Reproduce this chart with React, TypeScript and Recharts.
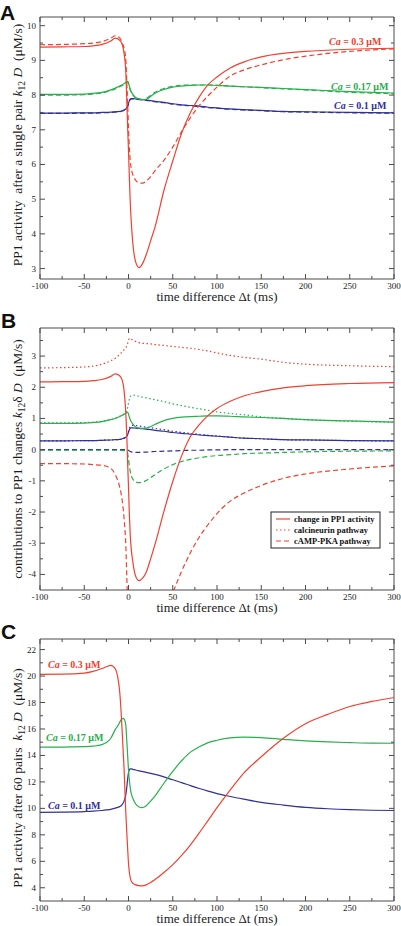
import React from 'react';
import { LineChart, Line, XAxis, YAxis, ReferenceLine } from 'recharts';

const RED = '#f2402f';
const GREEN = '#27b04b';
const BLUE = '#30309a';
const AXIS = '#4a4a4a';
const SERIF = '"Liberation Serif", "Times New Roman", serif';
const SANS = '"Liberation Sans", Arial, sans-serif';

// shared x axis (time difference, ms)
const xTicks = [-100, -75, -50, -25, 0, 25, 50, 75, 100, 125, 150, 175, 200, 225, 250, 275, 300];

// ---- panel A & B sample times
const tSingle = [-100, -75, -50, -40, -30, -20, -15, -10, -7, -5, -3, -2, -1, 0, 1, 2, 3, 5, 8, 12, 16, 20, 25, 30, 40, 50, 60, 70, 80, 90, 100, 115, 130, 150, 175, 200, 250, 300];

// A: PP1 activity after a single pair
const aRed = [9.38, 9.39, 9.4, 9.42, 9.46, 9.56, 9.64, 9.58, 9.45, 9.2, 8.65, 7.9, 7.1, 6.4, 5.6, 4.9, 4.4, 3.7, 3.2, 3.03, 3.15, 3.4, 3.8, 4.2, 5.25, 6.1, 6.9, 7.5, 7.95, 8.3, 8.52, 8.78, 8.95, 9.1, 9.2, 9.26, 9.32, 9.35];
const aRedDash = [9.45, 9.46, 9.48, 9.5, 9.54, 9.64, 9.71, 9.65, 9.5, 9.35, 9.0, 8.4, 7.8, 7.05, 6.45, 6.1, 5.9, 5.7, 5.55, 5.47, 5.46, 5.52, 5.65, 5.82, 6.12, 6.5, 6.95, 7.35, 7.7, 7.98, 8.23, 8.55, 8.72, 8.87, 9.02, 9.12, 9.26, 9.33];
const aGreen = [8.02, 8.02, 8.03, 8.05, 8.08, 8.15, 8.2, 8.26, 8.3, 8.33, 8.37, 8.39, 8.4, 8.35, 8.25, 8.17, 8.1, 8.02, 7.93, 7.89, 7.87, 7.88, 7.96, 8.05, 8.16, 8.23, 8.26, 8.28, 8.29, 8.29, 8.28, 8.26, 8.24, 8.22, 8.19, 8.16, 8.1, 8.06];
const aGreenDash = [8.0, 8.0, 8.01, 8.03, 8.06, 8.13, 8.18, 8.24, 8.28, 8.31, 8.35, 8.37, 8.38, 8.33, 8.23, 8.15, 8.08, 8.0, 7.92, 7.88, 7.87, 7.9, 7.99, 8.08, 8.19, 8.25, 8.28, 8.29, 8.29, 8.29, 8.28, 8.26, 8.24, 8.21, 8.18, 8.15, 8.08, 8.04];
const aBlue = [7.48, 7.48, 7.49, 7.49, 7.5, 7.51, 7.52, 7.53, 7.55, 7.57, 7.6, 7.63, 7.68, 7.76, 7.84, 7.88, 7.9, 7.9, 7.89, 7.88, 7.87, 7.86, 7.84, 7.82, 7.79, 7.75, 7.72, 7.7, 7.68, 7.65, 7.63, 7.6, 7.58, 7.56, 7.53, 7.52, 7.5, 7.49];
const aBlueDash = [7.47, 7.47, 7.48, 7.48, 7.49, 7.5, 7.51, 7.52, 7.54, 7.56, 7.59, 7.62, 7.67, 7.75, 7.83, 7.87, 7.89, 7.89, 7.88, 7.87, 7.86, 7.85, 7.83, 7.81, 7.78, 7.74, 7.71, 7.69, 7.67, 7.64, 7.62, 7.59, 7.57, 7.55, 7.52, 7.51, 7.49, 7.48];

// B: contributions (total / calcineurin / cAMP-PKA)
const bRed = [2.17, 2.18, 2.19, 2.21, 2.25, 2.35, 2.43, 2.37, 2.22, 1.9, 1.15, 0.5, -0.4, -1.2, -2.1, -2.75, -3.15, -3.62, -4.05, -4.2, -4.12, -3.93, -3.5, -3.03, -1.98, -1.02, -0.2, 0.42, 0.8, 1.1, 1.32, 1.55, 1.72, 1.86, 1.98, 2.05, 2.12, 2.15];
const bRedCn = [2.62, 2.63, 2.65, 2.68, 2.74, 2.85, 2.93, 3.05, 3.14, 3.2, 3.27, 3.32, 3.4, 3.5, 3.57, 3.56, 3.54, 3.51, 3.47, 3.43, 3.41, 3.4, 3.39, 3.37, 3.34, 3.31, 3.28, 3.25, 3.21, 3.16, 3.1, 3.02, 2.96, 2.9, 2.8, 2.74, 2.69, 2.66];
const bRedPka = [-0.45, -0.45, -0.46, -0.48, -0.5, -0.6, -0.8, -1.2, -1.65, -2.2, -3.1, -4.0, -5.0, -5.8, -6.6, -7.0, -7.3, -7.5, -7.6, -7.6, -7.5, -7.3, -6.9, -6.4, -5.4, -4.6, -3.9, -3.3, -2.8, -2.4, -2.05, -1.65, -1.4, -1.15, -0.92, -0.78, -0.62, -0.52];
const bGreen = [0.84, 0.84, 0.85, 0.87, 0.9, 0.96, 1.0, 1.06, 1.1, 1.13, 1.17, 1.19, 1.2, 1.14, 1.04, 0.96, 0.9, 0.82, 0.73, 0.69, 0.68, 0.69, 0.74, 0.81, 0.93, 1.0, 1.04, 1.06, 1.07, 1.08, 1.08, 1.07, 1.05, 1.03, 1.0, 0.96, 0.92, 0.88];
const bGreenCn = [0.86, 0.86, 0.87, 0.88, 0.91, 0.97, 1.01, 1.07, 1.11, 1.15, 1.2, 1.25, 1.35, 1.5, 1.62, 1.7, 1.73, 1.75, 1.74, 1.71, 1.68, 1.66, 1.63, 1.6, 1.54, 1.47, 1.41, 1.36, 1.31, 1.26, 1.21, 1.16, 1.12, 1.05, 1.0, 0.96, 0.91, 0.88];
const bGreenPka = [-0.02, -0.02, -0.02, -0.02, -0.02, -0.02, -0.02, -0.02, -0.03, -0.03, -0.04, -0.06, -0.12, -0.3, -0.52, -0.7, -0.82, -0.95, -1.03, -1.06, -1.04, -0.99, -0.9, -0.8, -0.62, -0.48, -0.38, -0.31, -0.26, -0.22, -0.19, -0.16, -0.13, -0.11, -0.09, -0.07, -0.05, -0.04];
const bBlue = [0.28, 0.28, 0.29, 0.29, 0.3, 0.31, 0.32, 0.33, 0.35, 0.37, 0.4, 0.43, 0.48, 0.56, 0.64, 0.68, 0.7, 0.7, 0.69, 0.68, 0.67, 0.66, 0.64, 0.62, 0.59, 0.55, 0.52, 0.5, 0.47, 0.45, 0.43, 0.4, 0.37, 0.35, 0.32, 0.31, 0.29, 0.28];
const bBlueCn = [0.28, 0.28, 0.29, 0.29, 0.3, 0.31, 0.32, 0.33, 0.35, 0.37, 0.4, 0.43, 0.49, 0.58, 0.68, 0.74, 0.77, 0.78, 0.77, 0.76, 0.74, 0.72, 0.7, 0.68, 0.64, 0.59, 0.55, 0.52, 0.49, 0.46, 0.44, 0.4, 0.37, 0.35, 0.32, 0.31, 0.29, 0.28];
const bBluePka = [0, 0, 0, 0, 0, 0, 0, 0, 0, 0, 0, 0, -0.01, -0.02, -0.04, -0.06, -0.07, -0.08, -0.09, -0.09, -0.08, -0.08, -0.07, -0.06, -0.05, -0.04, -0.03, -0.02, -0.02, -0.01, -0.01, 0, 0, 0, 0, 0, 0, 0];

// ---- panel C: after 60 pairs
const tPairs = [-100, -75, -50, -40, -30, -25, -20, -15, -12, -10, -8, -6, -5, -4, -3, -2, -1, 0, 1, 2, 3, 5, 8, 12, 15, 20, 25, 30, 40, 50, 60, 70, 80, 90, 100, 115, 130, 150, 175, 200, 225, 250, 275, 300];
const cRed = [20.13, 20.14, 20.22, 20.35, 20.57, 20.7, 20.81, 20.55, 19.85, 18.85, 16.9, 14.3, 13.0, 11.25, 9.6, 8.25, 7.0, 5.85, 5.15, 4.75, 4.52, 4.33, 4.22, 4.16, 4.14, 4.22, 4.4, 4.62, 5.15, 5.75, 6.45, 7.25, 8.15, 9.1, 10.05, 11.4, 12.65, 13.9, 15.3, 16.4, 17.1, 17.7, 18.08, 18.38];
const cGreen = [14.63, 14.63, 14.66, 14.7, 14.82, 14.98, 15.3, 15.95, 16.25, 16.5, 16.72, 16.8, 16.75, 16.6, 16.25, 15.2, 14.05, 12.9, 12.1, 11.55, 11.15, 10.75, 10.35, 10.1, 10.05, 10.2, 10.55, 10.95, 11.9, 12.8, 13.6, 14.25, 14.65, 14.97, 15.15, 15.33, 15.38, 15.35, 15.22, 15.1, 15.02, 14.97, 14.93, 14.92];
const cBlue = [9.7, 9.72, 9.76, 9.79, 9.84, 9.88, 9.93, 10.02, 10.08, 10.13, 10.22, 10.4, 10.55, 10.75, 11.05, 11.55, 12.2, 12.7, 12.92, 12.98, 12.98, 12.95, 12.9, 12.84, 12.8, 12.72, 12.65, 12.57, 12.38, 12.16, 11.95, 11.72, 11.5, 11.3, 11.12, 10.9, 10.7, 10.45, 10.25, 10.08, 9.97, 9.9, 9.86, 9.84];

const yTicksA = [3, 3.5, 4, 4.5, 5, 5.5, 6, 6.5, 7, 7.5, 8, 8.5, 9, 9.5, 10];
const yTicksB = [-4, -3.5, -3, -2.5, -2, -1.5, -1, -0.5, 0, 0.5, 1, 1.5, 2, 2.5, 3, 3.5];
const yTicksC = [4, 5, 6, 7, 8, 9, 10, 11, 12, 13, 14, 15, 16, 17, 18, 19, 20, 21, 22];

const rowsA = tSingle.map((t, i) => ({ t, red: aRed[i], redD: aRedDash[i], green: aGreen[i], greenD: aGreenDash[i], blue: aBlue[i], blueD: aBlueDash[i] }));
const rowsB = tSingle.map((t, i) => ({
  t, red: bRed[i], redCn: bRedCn[i], redPka: bRedPka[i],
  green: bGreen[i], greenCn: bGreenCn[i], greenPka: bGreenPka[i],
  blue: bBlue[i], blueCn: bBlueCn[i], bluePka: bBluePka[i],
}));
const rowsC = tPairs.map((t, i) => ({ t, red: cRed[i], green: cGreen[i], blue: cBlue[i] }));

const PLOT_W = 354;
const PLOT_H = 262;

// inward ticks on bottom + top, labels on bottom
const xTick = (props: any) => {
  const { x, y, payload } = props;
  const v = payload.value;
  const major = v % 50 === 0;
  const len = major ? 5 : 3;
  return (
    <g>
      <line x1={x} y1={y} x2={x} y2={y - len} stroke={AXIS} />
      <line x1={x} y1={y - PLOT_H} x2={x} y2={y - PLOT_H + len} stroke={AXIS} />
      {major && (
        <text x={x} y={y + 9.5} textAnchor="middle" fontSize={9} fill="#222" fontFamily={SERIF}>{v}</text>
      )}
    </g>
  );
};

// inward ticks on left + right, labels on left
const yTick = (isMajor: (v: number) => boolean) => (props: any) => {
  const { x, y, payload } = props;
  const v = payload.value;
  const major = isMajor(v);
  const len = major ? 5 : 3;
  return (
    <g>
      <line x1={x} y1={y} x2={x + len} y2={y} stroke={AXIS} />
      <line x1={x + PLOT_W} y1={y} x2={x + PLOT_W - len} y2={y} stroke={AXIS} />
      {major && (
        <text x={x - 4} y={y + 3} textAnchor="end" fontSize={9} fill="#222" fontFamily={SERIF}>{v}</text>
      )}
    </g>
  );
};

const isInt = (v: number) => Number.isInteger(v);
const isEven = (v: number) => v % 2 === 0;

const lineProps = { dot: false, activeDot: false, isAnimationActive: false, type: 'monotone' as const, strokeWidth: 1.2 };

function PanelA() {
  return (
    <LineChart width={401} height={305} data={rowsA} margin={{ top: 17, right: 7, bottom: 0, left: 0 }}>
      <XAxis dataKey="t" type="number" domain={[-100, 300]} ticks={xTicks} interval={0} tickSize={0} tickMargin={0}
        height={26} tick={xTick} tickLine={false} axisLine={{ stroke: AXIS }} allowDataOverflow />
      <YAxis type="number" domain={[2.7, 10.25]} ticks={yTicksA} interval={0} width={40} tickSize={0} tickMargin={0}
        tick={yTick(isInt)} tickLine={false} axisLine={{ stroke: AXIS }} allowDataOverflow />
      <ReferenceLine y={10.25} stroke={AXIS} />
      <ReferenceLine x={300} stroke={AXIS} />
      <Line dataKey="blueD" stroke={BLUE} strokeDasharray="5 3" {...lineProps} />
      <Line dataKey="blue" stroke={BLUE} {...lineProps} />
      <Line dataKey="greenD" stroke={GREEN} strokeDasharray="5 3" {...lineProps} />
      <Line dataKey="green" stroke={GREEN} {...lineProps} />
      <Line dataKey="redD" stroke={RED} strokeDasharray="5 3" {...lineProps} />
      <Line dataKey="red" stroke={RED} {...lineProps} />
    </LineChart>
  );
}

function PanelB() {
  return (
    <LineChart width={401} height={305} data={rowsB} margin={{ top: 18, right: 7, bottom: 0, left: 0 }}>
      <XAxis dataKey="t" type="number" domain={[-100, 300]} ticks={xTicks} interval={0} tickSize={0} tickMargin={0}
        height={25} tick={xTick} tickLine={false} axisLine={{ stroke: AXIS }} allowDataOverflow />
      <YAxis type="number" domain={[-4.5, 3.9]} ticks={yTicksB} interval={0} width={40} tickSize={0} tickMargin={0}
        tick={yTick(isInt)} tickLine={false} axisLine={{ stroke: AXIS }} allowDataOverflow />
      <ReferenceLine y={3.9} stroke={AXIS} />
      <ReferenceLine x={300} stroke={AXIS} />
      <Line dataKey="bluePka" stroke={BLUE} strokeDasharray="5 3" {...lineProps} />
      <Line dataKey="greenPka" stroke={GREEN} strokeDasharray="5 3" {...lineProps} />
      <Line dataKey="redPka" stroke={RED} strokeDasharray="5 3" {...lineProps} />
      <Line dataKey="blueCn" stroke={BLUE} strokeDasharray="1.5 2.5" {...lineProps} />
      <Line dataKey="greenCn" stroke={GREEN} strokeDasharray="1.5 2.5" {...lineProps} />
      <Line dataKey="redCn" stroke={RED} strokeDasharray="1.5 2.5" {...lineProps} />
      <Line dataKey="blue" stroke={BLUE} {...lineProps} />
      <Line dataKey="green" stroke={GREEN} {...lineProps} />
      <Line dataKey="red" stroke={RED} {...lineProps} />
    </LineChart>
  );
}

function PanelC() {
  return (
    <LineChart width={401} height={306} data={rowsC} margin={{ top: 19, right: 7, bottom: 0, left: 0 }}>
      <XAxis dataKey="t" type="number" domain={[-100, 300]} ticks={xTicks} interval={0} tickSize={0} tickMargin={0}
        height={25} tick={xTick} tickLine={false} axisLine={{ stroke: AXIS }} allowDataOverflow />
      <YAxis type="number" domain={[3, 22.8]} ticks={yTicksC} interval={0} width={40} tickSize={0} tickMargin={0}
        tick={yTick(isEven)} tickLine={false} axisLine={{ stroke: AXIS }} allowDataOverflow />
      <ReferenceLine y={22.8} stroke={AXIS} />
      <ReferenceLine x={300} stroke={AXIS} />
      <Line dataKey="blue" stroke={BLUE} {...lineProps} />
      <Line dataKey="green" stroke={GREEN} {...lineProps} />
      <Line dataKey="red" stroke={RED} {...lineProps} />
    </LineChart>
  );
}

const labelStyle = { fontFamily: SERIF, fontWeight: 700, fontSize: 10 };
const titleStyle = { fontFamily: SERIF, fontSize: 13, fill: '#1a1a1a', whiteSpace: 'pre' as const };

function CaLabel({ x, y, value, color }: { x: number; y: number; value: string; color: string }) {
  return (
    <text x={x} y={y} fill={color} style={labelStyle}>
      <tspan fontStyle="italic">Ca</tspan>{` = ${value} μM`}
    </text>
  );
}

function YTitle({ cx, cy, pre, mid }: { cx: number; cy: number; pre: string; mid?: string }) {
  return (
    <text x={cx} y={cy} transform={`rotate(-90, ${cx}, ${cy})`} textAnchor="middle" style={{ ...titleStyle, fontSize: 13.5 }}>
      {pre}
      <tspan fontStyle="italic">k</tspan>
      <tspan fontSize={9.5} dy={3}>12</tspan>
      <tspan dy={-3}>{mid ?? ' '}</tspan>
      <tspan fontStyle="italic">D</tspan>
      {'  (μM/s)'}
    </text>
  );
}

function XTitle({ y }: { y: number }) {
  return (
    <text x={217} y={y} textAnchor="middle" style={titleStyle}>time difference Δt (ms)</text>
  );
}

export default function App() {
  const legendRows = [
    { label: 'change in PP1 activity', dash: undefined },
    { label: 'calcineurin pathway', dash: '1.5 2.5' },
    { label: 'cAMP-PKA pathway', dash: '5 3' },
  ];
  return (
    <div style={{ position: 'absolute', left: 0, top: 0, width: 401, height: 926, background: '#fff' }}>
      <div style={{ position: 'absolute', left: 0, top: 0 }}><PanelA /></div>
      <div style={{ position: 'absolute', left: 0, top: 310 }}><PanelB /></div>
      <div style={{ position: 'absolute', left: 0, top: 620 }}><PanelC /></div>
      <svg width={401} height={926} style={{ position: 'absolute', left: 0, top: 0, pointerEvents: 'none' }}>
        {/* panel letters */}
        <text x={0} y={20} fontFamily={SANS} fontWeight={700} fontSize={21} fill="#111">A</text>
        <text x={1} y={328} fontFamily={SANS} fontWeight={700} fontSize={21} fill="#111">B</text>
        <text x={1} y={639} fontFamily={SANS} fontWeight={700} fontSize={21} fill="#111">C</text>

        {/* axis titles */}
        <YTitle cx={22} cy={145} pre="PP1 activity  after a single pair " />
        <XTitle y={301} />
        <YTitle cx={22} cy={459} pre="contributions to PP1 changes " mid="δ " />
        <XTitle y={612} />
        <YTitle cx={22} cy={778} pre="PP1 activity after 60 pairs  " />
        <XTitle y={923} />

        {/* curve labels */}
        <CaLabel x={329} y={45} value="0.3" color={RED} />
        <CaLabel x={331} y={90} value="0.17" color={GREEN} />
        <CaLabel x={334} y={109} value="0.1" color={BLUE} />
        <CaLabel x={48} y={668} value="0.3" color={RED} />
        <CaLabel x={46} y={741} value="0.17" color={GREEN} />
        <CaLabel x={48} y={809} value="0.1" color={BLUE} />

        {/* legend of panel B */}
        <rect x={271} y={512} width={109} height={36} fill="#fff" stroke="#222" strokeWidth={1} />
        {legendRows.map((r, i) => (
          <g key={r.label}>
            <line x1={276} x2={290} y1={519 + i * 11} y2={519 + i * 11} stroke={RED} strokeWidth={1.2} strokeDasharray={r.dash} />
            <text x={294} y={522 + i * 11} fontFamily={SERIF} fontWeight={700} fontSize={8.5} fill="#111">{r.label}</text>
          </g>
        ))}
      </svg>
    </div>
  );
}
